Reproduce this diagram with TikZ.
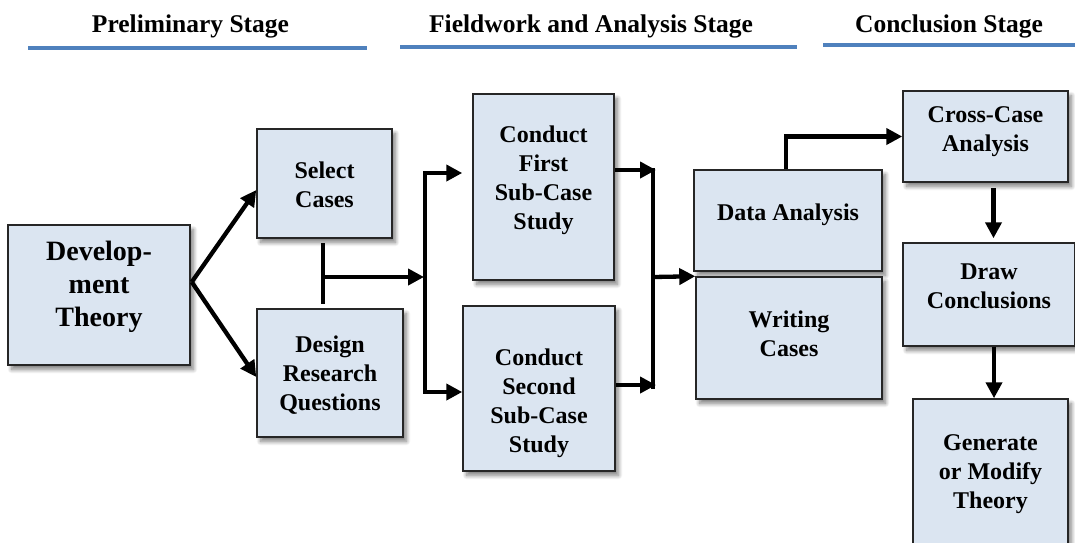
\documentclass[tikz,border=0pt]{standalone}
\usepackage{fontspec}
\setmainfont{Liberation Serif}
\usetikzlibrary{arrows.meta,shadows.blur,calc}
\definecolor{boxfill}{HTML}{DBE5F1}
\definecolor{rulebl}{HTML}{4F81BD}
\definecolor{boxline}{HTML}{262626}

\begin{document}
\begin{tikzpicture}[x=1pt,y=-1pt,
  box/.style={draw=boxline, line width=1.5pt, fill=boxfill, inner sep=0pt,
    blur shadow={shadow xshift=3.5pt, shadow yshift=-4.5pt, shadow blur radius=4pt,
                 shadow blur steps=10, shadow opacity=50}},
  txt/.style={font=\bfseries\fontsize{24}{29}\selectfont, align=center, inner sep=0pt},
  bigtxt/.style={font=\bfseries\fontsize{28}{33}\selectfont, align=center, inner sep=0pt},
  stagetitle/.style={font=\bfseries\fontsize{25.5}{30}\selectfont, anchor=base, inner sep=0pt},
  arr/.style={line width=4.3pt, -{Triangle[length=16pt,width=16pt]}},
  link/.style={line width=4.3pt},
  stagerule/.style={rulebl, line width=3.5pt}]

\useasboundingbox (0,0) rectangle (1075,542);

% stage headings
\node[stagetitle] (t1) at (190.5,32) {Preliminary Stage};
\node[stagetitle] (t2) at (591,32) {Fieldwork and Analysis Stage};
\node[stagetitle] (t3) at (949,32) {Conclusion Stage};
\draw[stagerule] (28,48) -- (367,48);
\draw[stagerule] (400,47) -- (797,47);
\draw[stagerule] (823,45) -- (1075,45);

% boxes
\node[box, minimum width=182pt, minimum height=140pt,
      label={[bigtxt,yshift=8pt]center:{Develop-\\ment\\Theory}}] (dev) at (99,295) {};
\node[box, minimum width=135pt, minimum height=109pt,
      label={[txt,yshift=-1pt]center:{Select\\Cases}}] (sel) at (324.5,183.5) {};
\node[box, minimum width=146pt, minimum height=128pt,
      label={[txt,yshift=-2pt]center:{Design\\Research\\Questions}}] (des) at (330,373) {};
\node[box, minimum width=141pt, minimum height=186pt,
      label={[txt,yshift=7pt]center:{Conduct\\First\\Sub-Case\\Study}}] (cf) at (543.5,187) {};
\node[box, minimum width=152pt, minimum height=165pt,
      label={[txt,yshift=-15pt]center:{Conduct\\Second\\Sub-Case\\Study}}] (cs) at (539,388.5) {};
\node[box, minimum width=188pt, minimum height=101pt,
      label={[txt,yshift=6pt]center:{Data Analysis}}] (da) at (788,220.5) {};
\node[box, minimum width=186pt, minimum height=122pt,
      label={[txt,yshift=4pt]center:{Writing\\Cases}}] (wc) at (789,338) {};
\node[box, minimum width=165pt, minimum height=91pt,
      label={[txt,yshift=5pt]center:{Cross-Case\\Analysis}}] (cc) at (985.5,136.5) {};
\node[box, minimum width=172pt, minimum height=103pt,
      label={[txt,yshift=8pt]center:{Draw\\Conclusions}}] (dc) at (989,294.5) {};
\node[box, minimum width=155pt, minimum height=146pt,
      label={[txt,yshift=-2pt]center:{Generate\\or Modify\\Theory}}] (gm) at (990.5,472) {};

% preliminary stage connectors
\coordinate (fork) at ([xshift=1pt,yshift=13pt]dev.east);
\draw[arr] (fork) -- ([yshift=-6.5pt]sel.west);
\draw[arr] (fork) -- ([yshift=-4pt]des.west);

\coordinate (split) at (425,277);
\draw[link] ([xshift=-1.5pt,yshift=-4pt]sel.south) -- ([xshift=-7pt,yshift=4pt]des.north);
\draw[arr] ([xshift=-1.5pt]sel.south |- split) -- ([xshift=-1pt]split);

% fieldwork connectors
\draw[arr, line join=miter] (split) |- ([yshift=14pt]cf.west -| cs.west);
\draw[arr, line join=miter] (split) |- ([yshift=-3.5pt]cs.west);

\coordinate (merge) at (653,277);
\draw[arr] ([yshift=17pt]cf.east) -- ([xshift=3pt,yshift=17pt]cf.east -| merge);
\draw[arr] ([yshift=3.5pt]cs.east) -- ([xshift=3pt,yshift=3.5pt]cs.east -| merge);
\draw[link] ([yshift=19pt]cf.east -| merge) -- ([yshift=0pt]cs.east -| merge);
\draw[arr] (merge) -- (wc.north west);

% analysis and conclusion connectors
\draw[arr, line join=miter] ([xshift=-2pt]da.north) |- (cc.west);
\draw[arr] ([xshift=8pt,yshift=-5pt]cc.south) -- ([xshift=4.5pt,yshift=4pt]dc.north);
\draw[arr] ([xshift=5pt]dc.south) -- ([xshift=5pt]dc.south |- gm.north);
\end{tikzpicture}
\end{document}
